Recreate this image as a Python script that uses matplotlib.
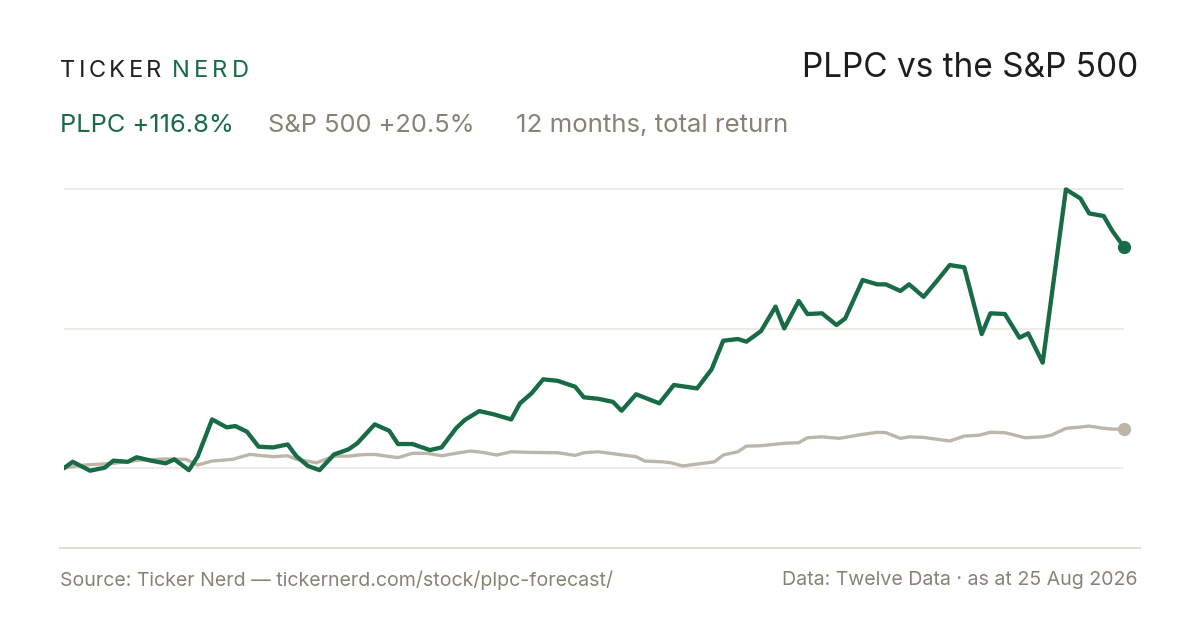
import matplotlib
matplotlib.use("Agg")
import matplotlib.pyplot as plt
from matplotlib.lines import Line2D

# PLPC total return (%), by day since 25 Aug 2025
plpc_days = [0, 3, 9, 14, 17, 22, 25, 30, 35, 38, 43, 46, 51, 56, 59, 63, 67, 72, 77, 80,
             84, 88, 93, 98, 101, 107, 112, 115, 120, 126, 130, 135, 138, 143, 148, 154, 157,
             161, 165, 170, 176, 179, 184, 189, 192, 197, 205, 210, 218, 223, 227, 232, 235,
             240, 245, 248, 253, 256, 261, 266, 269, 275, 280, 283, 288, 291, 296, 301, 305,
             310, 316, 319, 324, 329, 332, 337, 345, 350, 353, 358, 361, 365]
plpc_pct = [0.0, 3.3, -1.4, 0.2, 3.9, 3.3, 5.7, 3.9, 2.5, 4.6, -1.1, 6.0, 25.7, 21.5, 22.2,
            19.2, 11.3, 10.9, 12.5, 6.3, 1.1, -1.1, 7.2, 9.9, 13.1, 23.1, 19.7, 12.7, 12.7, 9.5,
            10.9, 21.0, 25.4, 30.1, 28.4, 25.7, 34.2, 39.5, 46.9, 46.1, 43.0, 37.4, 36.6, 35.0,
            30.3, 39.0, 34.2, 43.9, 42.1, 52.2, 67.3, 68.2, 66.8, 72.4, 85.3, 73.8, 88.3, 81.4,
            81.8, 75.6, 79.1, 99.4, 97.1, 97.1, 93.6, 97.1, 90.5, 99.7, 107.3, 106.1, 70.8,
            81.8, 81.4, 68.9, 71.2, 55.7, 147.3, 142.5, 134.6, 133.2, 125.3, 116.8]

# S&P 500 total return (%)
spx_days = [0, 7, 17, 26, 35, 42, 46, 51, 58, 64, 72, 77, 80, 87, 93, 98, 103, 107, 115, 120,
            125, 130, 135, 140, 144, 149, 154, 160, 170, 176, 179, 184, 190, 197, 200, 206, 209,
            213, 218, 224, 227, 232, 235, 240, 248, 253, 256, 261, 267, 275, 280, 283, 288, 291,
            296, 305, 310, 315, 319, 324, 331, 337, 340, 345, 349, 353, 358, 361, 365]
spx_pct = [0.0, 1.6, 2.5, 4.2, 4.8, 4.6, 1.6, 3.7, 4.6, 7.2, 6.0, 6.5, 4.6, 2.8, 6.3, 6.3, 7.1,
           7.2, 5.5, 7.8, 7.8, 6.5, 7.8, 9.0, 8.3, 6.9, 8.6, 8.3, 8.1, 6.7, 8.1, 8.6, 7.4, 6.0,
           3.7, 3.3, 2.8, 1.1, 2.1, 3.3, 6.9, 8.6, 11.6, 11.8, 13.1, 13.4, 16.0, 16.5, 15.7, 17.8,
           18.9, 18.7, 15.7, 16.5, 16.2, 14.3, 16.9, 17.3, 18.9, 18.7, 16.0, 16.5, 17.4, 21.0,
           21.5, 22.2, 21.0, 20.6, 20.5]

GREEN = '#176b45'
GREY_LINE = '#bcb5aa'
GREY_TEXT = '#878274'
DARK = '#1e1e1e'
FONT = ['Inter', 'DejaVu Sans']

W, H = 1200, 630
plt.rcParams['font.family'] = FONT
fig = plt.figure(figsize=(12, 6.3), dpi=100)
fig.patch.set_facecolor('white')


def fx(x):
    return x / W


def fy(y):
    return 1 - y / H


# chart area
ax = fig.add_axes([fx(64), fy(490), fx(1124) - fx(64), fy(175) - fy(490)])
ax.set_xlim(0, 365)
ax.set_ylim(-11.6, 154.9)
top = max(plpc_pct)
ax.set_yticks([0, top / 2, top])
ax.yaxis.grid(True, color='#ece8e1', lw=1.2)
ax.set_axisbelow(True)
for s in ax.spines.values():
    s.set_visible(False)
ax.tick_params(length=0, labelleft=False, labelbottom=False)
ax.set_xticks([])

ax.plot(spx_days, spx_pct, color=GREY_LINE, lw=2.4, solid_joinstyle='round', zorder=2)
ax.plot(plpc_days, plpc_pct, color=GREEN, lw=3.1, solid_joinstyle='round', zorder=3)
ax.plot(spx_days[-1], spx_pct[-1], 'o', ms=8.5, color=GREY_LINE, clip_on=False, zorder=4)
ax.plot(plpc_days[-1], plpc_pct[-1], 'o', ms=8.5, color=GREEN, clip_on=False, zorder=4)

# bottom rule
fig.add_artist(Line2D([fx(60), fx(1140)], [fy(548), fy(548)], color='#dedad0', lw=1.4))


# letter-spaced logo
def spaced(x, y, s, color, size, track):
    r = fig.canvas.get_renderer()
    for ch in s:
        t = fig.text(fx(x), fy(y), ch, color=color, fontsize=size, va='center', ha='left')
        x += t.get_window_extent(r).width + track
    return x


x_end = spaced(60, 71, 'TICKER', '#222222', 17, 3.4)
spaced(x_end + 7, 71, 'NERD', GREEN, 17, 4.2)

fig.text(fx(1138), fy(68), 'PLPC vs the S&P 500', color=DARK, fontsize=24, ha='right', va='center')

fig.text(fx(60), fy(125), 'PLPC +116.8%', color=GREEN, fontsize=18.3, va='center')
fig.text(fx(268), fy(125), 'S&P 500 +20.5%', color=GREY_TEXT, fontsize=18.3, va='center')
fig.text(fx(516), fy(125), '12 months, total return', color=GREY_TEXT, fontsize=18.6, va='center')

fig.text(fx(60), fy(580), 'Source: Ticker Nerd \u2014 tickernerd.com/stock/plpc-forecast/',
         color=GREY_TEXT, fontsize=14.1, va='center')
fig.text(fx(1138), fy(580), 'Data: Twelve Data \u00b7 as at 25 Aug 2026',
         color=GREY_TEXT, fontsize=14.1, va='center', ha='right')

fig.savefig('out.png', dpi=100, facecolor='white')
